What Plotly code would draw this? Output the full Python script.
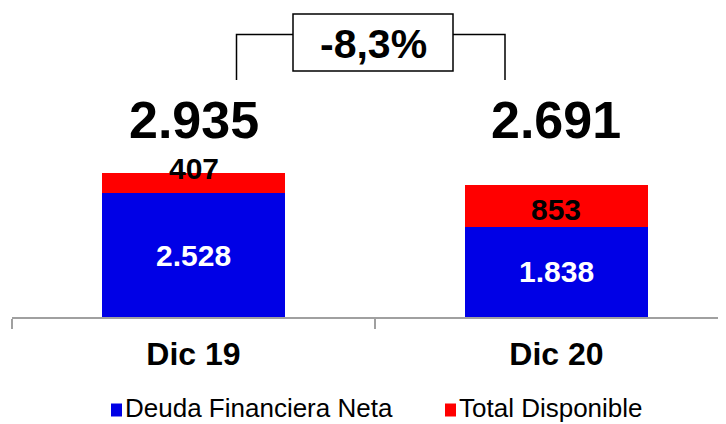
import plotly.graph_objects as go

# ---- data ----
categories = ["Dic 19", "Dic 20"]
deuda_neta = [2528, 1838]
total_disponible = [407, 853]
totals = [2935, 2691]
change_label = "-8,3%"
series_names = ["Deuda Financiera Neta", "Total Disponible"]

# ---- style ----
BLUE = "#0000E6"
RED = "#FF0000"
FONT = "Liberation Sans, Arial, sans-serif"
OFF = 8  # default page body margin
W, H = 726, 424
ML, MR, MT, MB = 12 - OFF, 0, 10 - OFF, 107 + OFF
PW, PH = W - ML - MR, H - MT - MB
AXIS_PX = 317  # target page pixel of the axis line
PX_PER_UNIT = 0.049
YMAX = PH / PX_PER_UNIT
red_label_shift = [15, -3]


def fmt(v):
    return f"{v:,}".replace(",", ".")


def px_to_paper_x(px):
    # px: target page pixel
    return (px - OFF - ML) / PW


def px_to_paper_y(py):
    return (AXIS_PX - py) / PH


fig = go.Figure()
fig.add_trace(go.Bar(x=categories, y=deuda_neta, name=series_names[0],
                     marker=dict(color=BLUE, line=dict(width=0)), hoverinfo="skip"))
fig.add_trace(go.Bar(x=categories, y=total_disponible, name=series_names[1],
                     marker=dict(color=RED, line=dict(width=0)), hoverinfo="skip"))

annotations = []
for i, c in enumerate(categories):
    annotations.append(dict(x=c, y=deuda_neta[i] / 2, xref="x", yref="y",
                            text=f"<b>{fmt(deuda_neta[i])}</b>", showarrow=False,
                            yanchor="middle",
                            font=dict(family=FONT, size=30, color="white")))
    annotations.append(dict(x=c, y=deuda_neta[i] + total_disponible[i] / 2, xref="x", yref="y",
                            text=f"<b>{fmt(total_disponible[i])}</b>", showarrow=False,
                            yshift=red_label_shift[i], yanchor="middle",
                            font=dict(family=FONT, size=30, color="black")))
    annotations.append(dict(x=c, y=px_to_paper_y(120), xref="x", yref="paper",
                            text=f"<b>{fmt(totals[i])}</b>", showarrow=False,
                            yanchor="middle",
                            font=dict(family=FONT, size=52, color="black")))

# change box label
annotations.append(dict(x=px_to_paper_x(373), y=px_to_paper_y(44), xref="paper", yref="paper",
                        text=f"<b>{change_label}</b>", showarrow=False,
                        xanchor="center", yanchor="middle",
                        font=dict(family=FONT, size=41, color="black")))

shapes = []
line = dict(color="black", width=1.5)
shapes.append(dict(type="rect", xref="paper", yref="paper",
                   x0=px_to_paper_x(293), x1=px_to_paper_x(453),
                   y0=px_to_paper_y(14), y1=px_to_paper_y(71), line=line))
shapes.append(dict(type="path", xref="paper", yref="paper",
                   path=f"M{px_to_paper_x(236.5)},{px_to_paper_y(80)} L{px_to_paper_x(236.5)},{px_to_paper_y(34.5)} L{px_to_paper_x(293)},{px_to_paper_y(34.5)}",
                   line=line))
shapes.append(dict(type="path", xref="paper", yref="paper",
                   path=f"M{px_to_paper_x(453)},{px_to_paper_y(34.5)} L{px_to_paper_x(505)},{px_to_paper_y(34.5)} L{px_to_paper_x(505)},{px_to_paper_y(80)}",
                   line=line))

# legend (drawn manually to match the tight swatch/text spacing)
legend_items = [(series_names[0], BLUE, 111), (series_names[1], RED, 445)]
LEG_Y = 410
for name, col, x0 in legend_items:
    shapes.append(dict(type="rect", xref="paper", yref="paper",
                       x0=px_to_paper_x(x0), x1=px_to_paper_x(x0 + 11),
                       y0=px_to_paper_y(LEG_Y - 6.5), y1=px_to_paper_y(LEG_Y + 6.5),
                       fillcolor=col, line=dict(width=0)))
    annotations.append(dict(x=px_to_paper_x(x0 + 12), y=px_to_paper_y(LEG_Y - 2), xref="paper", yref="paper",
                            text=name, showarrow=False, xanchor="left", yanchor="middle",
                            font=dict(family=FONT, size=26, color="black")))

fig.update_layout(
    width=W, height=H,
    margin=dict(l=ML, r=MR, t=MT, b=MB, pad=0),
    paper_bgcolor="white", plot_bgcolor="white",
    barmode="stack", bargap=0.495,
    showlegend=False,
    xaxis=dict(type="category", range=[-0.5, 1.489], showline=True, linecolor="#A0A0A0",
               linewidth=1.5, ticks="outside", tickson="boundaries", ticklen=10,
               tickcolor="#A0A0A0", tickwidth=1.5, ticklabelstandoff=8,
               tickvals=categories, ticktext=[f"<b>{c}</b>" for c in categories],
               tickfont=dict(family=FONT, size=32, color="black"),
               showgrid=False, zeroline=False, fixedrange=True),
    yaxis=dict(range=[0, YMAX], visible=False, showgrid=False, zeroline=False, fixedrange=True),
    annotations=annotations,
    shapes=shapes,
)

fig.write_html("out.html")
